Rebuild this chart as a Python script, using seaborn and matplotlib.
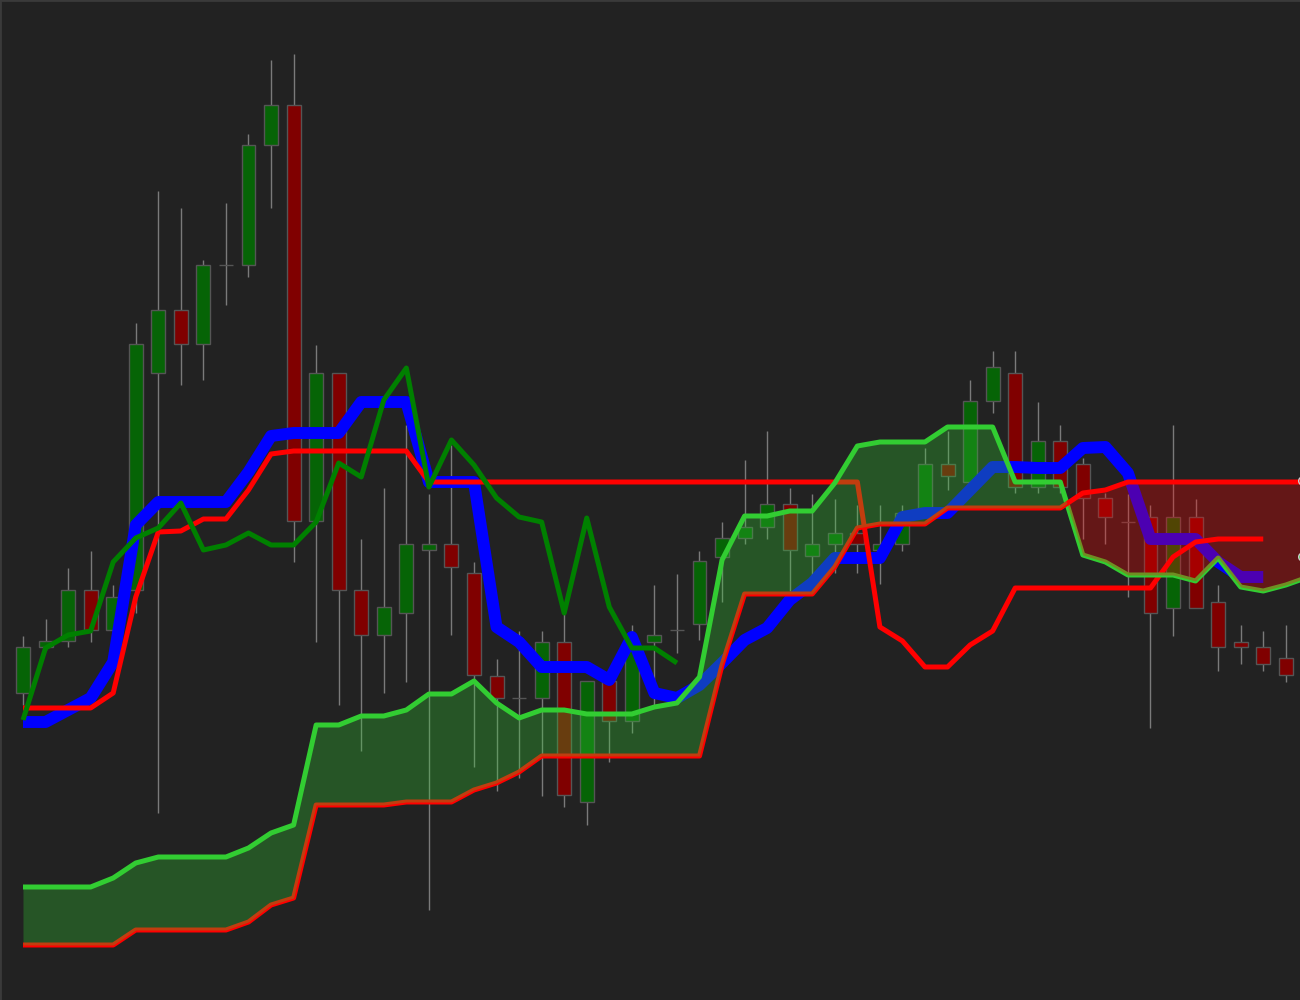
import numpy as np
import pandas as pd
import seaborn as sns
import matplotlib.pyplot as plt

# candles (price units, no axis shown in the original)
opens = [30.7, 35.3, 35.9, 41.0, 37.0, 41.0, 62.7, 69.0, 65.6, 73.5,
         73.5, 85.5, 89.5, 47.9, 62.7, 41.0, 36.5, 38.7, 45.0, 45.6,
         42.7, 32.4, 30.2, 30.2, 35.8, 19.8, 31.9, 27.9, 35.8, 37.0,
         37.6, 44.3, 46.2, 47.3, 49.6, 44.4, 45.6, 46.7, 45.0, 45.6,
         49.0, 53.6, 51.8, 59.9, 62.7, 51.3, 55.9, 53.6, 50.2, 47.8,
         48.3, 39.2, 48.3, 39.8, 35.8, 35.3, 34.2]
highs = [36.4, 38.1, 43.2, 44.9, 41.5, 67.7, 80.9, 79.2, 74.0, 79.7,
         86.6, 94.0, 94.6, 65.5, 62.7, 46.1, 51.2, 57.5, 50.6, 55.5,
         43.8, 34.1, 36.9, 36.9, 38.7, 31.9, 31.9, 37.5, 41.5, 42.6,
         44.9, 47.8, 54.0, 56.9, 51.2, 50.6, 50.1, 49.5, 49.5, 49.5,
         55.2, 56.9, 62.0, 64.9, 64.9, 59.8, 57.5, 54.2, 50.7, 50.6,
         49.5, 57.5, 50.1, 41.5, 37.5, 36.9, 37.5]
lows = [29.5, 35.0, 35.3, 35.8, 36.0, 38.7, 18.7, 61.5, 62.0, 69.5,
        72.3, 79.2, 43.8, 35.8, 29.5, 24.9, 30.7, 31.8, 9.0, 36.5,
        23.3, 20.9, 22.2, 20.4, 19.3, 17.5, 23.8, 26.7, 29.5, 34.7,
        36.0, 39.8, 45.6, 46.1, 40.9, 42.4, 42.7, 42.7, 41.6, 44.9,
        48.4, 51.0, 51.0, 58.7, 50.7, 50.7, 50.7, 46.1, 45.6, 40.3,
        27.2, 36.4, 39.2, 32.9, 33.6, 32.9, 31.8]
closes = [35.3, 35.9, 41.0, 37.0, 40.3, 65.6, 69.0, 65.6, 73.5, 73.5,
          85.5, 89.5, 47.9, 62.7, 41.0, 36.5, 39.3, 45.6, 45.6, 43.3,
          32.5, 30.2, 30.2, 35.8, 20.5, 31.9, 27.9, 35.0, 36.5, 37.0,
          43.9, 46.2, 47.3, 49.6, 45.0, 45.6, 46.7, 45.6, 45.6, 48.7,
          53.6, 52.4, 59.9, 63.3, 51.3, 55.9, 51.3, 50.2, 48.3, 47.8,
          38.7, 48.3, 39.2, 35.3, 35.3, 33.6, 32.5]

tenkan = [27.8, 27.8, 29.0, 30.2, 33.8, 47.5, 49.8, 49.8, 49.8, 49.8,
          52.8, 56.4, 56.7, 56.7, 56.7, 59.8, 59.8, 59.8, 51.8, 51.8,
          51.8, 37.3, 35.8, 33.3, 33.3, 33.3, 32.0, 36.3, 30.7, 30.2,
          31.5, 33.7, 36.0, 37.2, 40.0, 41.7, 44.2, 44.2, 44.2, 48.3,
          48.7, 48.7, 51.0, 53.3, 53.3, 53.2, 53.2, 55.2, 55.3, 52.7,
          46.1, 46.1, 46.1, 43.8, 42.3, 42.3]
kijun = [29.2, 29.2, 29.2, 29.2, 30.7, 40.3, 46.8, 46.9, 48.1, 48.1,
         51.0, 54.6, 54.9, 54.9, 54.9, 54.9, 54.9, 54.9, 51.8, 51.8,
         51.8, 51.8, 51.8, 51.8, 51.8, 51.8, 51.8, 51.8, 51.8, 51.8,
         51.8, 51.8, 51.8, 51.8, 51.8, 51.8, 51.8, 51.8, 37.3, 35.9,
         33.3, 33.3, 35.5, 36.9, 41.2, 41.2, 41.2, 41.2, 41.2, 41.2,
         41.2, 44.3, 45.8, 46.1, 46.1, 46.1]
chikou = [28.0, 35.2, 36.5, 36.9, 43.8, 46.2, 47.2, 49.7, 45.0, 45.5,
          46.7, 45.5, 45.5, 47.8, 53.7, 52.3, 60.0, 63.2, 51.3, 56.0,
          53.5, 50.2, 48.3, 47.8, 38.7, 48.2, 39.3, 35.2, 35.2, 33.7]
span_a = [11.3, 11.3, 11.3, 11.3, 12.2, 13.7, 14.3, 14.3, 14.3, 14.3,
          15.2, 16.7, 17.5, 27.5, 27.5, 28.4, 28.4, 29.0, 30.6, 30.6,
          31.9, 29.7, 28.2, 29.0, 29.0, 28.6, 28.6, 28.6, 29.3, 29.7,
          32.3, 44.0, 48.4, 48.4, 48.9, 48.9, 51.7, 55.4, 55.8, 55.8,
          55.8, 57.3, 57.3, 57.3, 51.8, 51.8, 51.8, 44.5, 43.8, 42.5,
          42.5, 42.5, 41.9, 44.2, 41.3, 40.9, 41.5, 42.3]
span_b = [5.5, 5.5, 5.5, 5.5, 5.5, 7.0, 7.0, 7.0, 7.0, 7.0,
          7.8, 9.5, 10.2, 19.5, 19.5, 19.5, 19.5, 19.8, 19.8, 19.8,
          21.0, 21.7, 22.8, 24.4, 24.4, 24.4, 24.4, 24.4, 24.4, 24.4,
          24.4, 33.5, 40.6, 40.6, 40.6, 40.6, 43.3, 47.2, 47.6, 47.6,
          47.6, 49.2, 49.2, 49.2, 49.2, 49.2, 49.2, 50.7, 51.0, 51.8,
          51.8, 51.8, 51.8, 51.8, 51.8, 51.8, 51.8, 51.8]
edge_marks = [51.9, 44.3]

sns.set_style("dark", {"axes.facecolor": "#222222", "figure.facecolor": "#222222"})
fig = plt.figure(figsize=(13, 10), dpi=100)
ax = fig.add_axes([0, 0, 1, 1])

df = pd.DataFrame({"open": opens, "high": highs, "low": lows, "close": closes})
df["idx"] = np.arange(len(df))
up = df["close"] >= df["open"]

# wicks + bodies
ax.vlines(df["idx"], df["low"], df["high"], color="#7a7a7a", linewidth=1, zorder=1)
ax.bar(df["idx"], df["close"] - df["open"], bottom=df["open"], width=0.62,
       color=np.where(up, "#066406", "#800000"), edgecolor="#555555", linewidth=1, zorder=2)

def draw_line(vals, color, lw, z):
    sns.lineplot(x=np.arange(len(vals)), y=vals, color=color, linewidth=lw, ax=ax,
                 zorder=z, solid_capstyle="butt")

draw_line(tenkan, "blue", 8.6, 3)
draw_line(kijun, "red", 3.6, 4)
draw_line(chikou, "green", 3.6, 5)
draw_line(span_a, "limegreen", 3.6, 5)
draw_line(span_b, "red", 3.6, 5)

# cloud on top
xs = np.arange(len(span_a))
a = np.array(span_a)
b = np.array(span_b)
ax.fill_between(xs, a, b, where=a >= b, interpolate=True, color="limegreen",
                alpha=0.3, linewidth=0, zorder=6)
ax.fill_between(xs, a, b, where=a < b, interpolate=True, color="red",
                alpha=0.3, linewidth=0, zorder=6)

ax.scatter([56.75, 56.75], edge_marks, s=34, c=["red", "limegreen"],
           edgecolors="#cccccc", linewidths=1, zorder=7)

ax.set_xlim(-1.02, 56.63)
ax.set_ylim(0, 100)
ax.set_xticks([])
ax.set_yticks([])
ax.set_xlabel("")
ax.set_ylabel("")
for side in ["right", "bottom"]:
    ax.spines[side].set_visible(False)
for side in ["top", "left"]:
    ax.spines[side].set_color("#3a3a3a")
    ax.spines[side].set_linewidth(2)

fig.savefig("out.png", dpi=100, facecolor="#222222")
